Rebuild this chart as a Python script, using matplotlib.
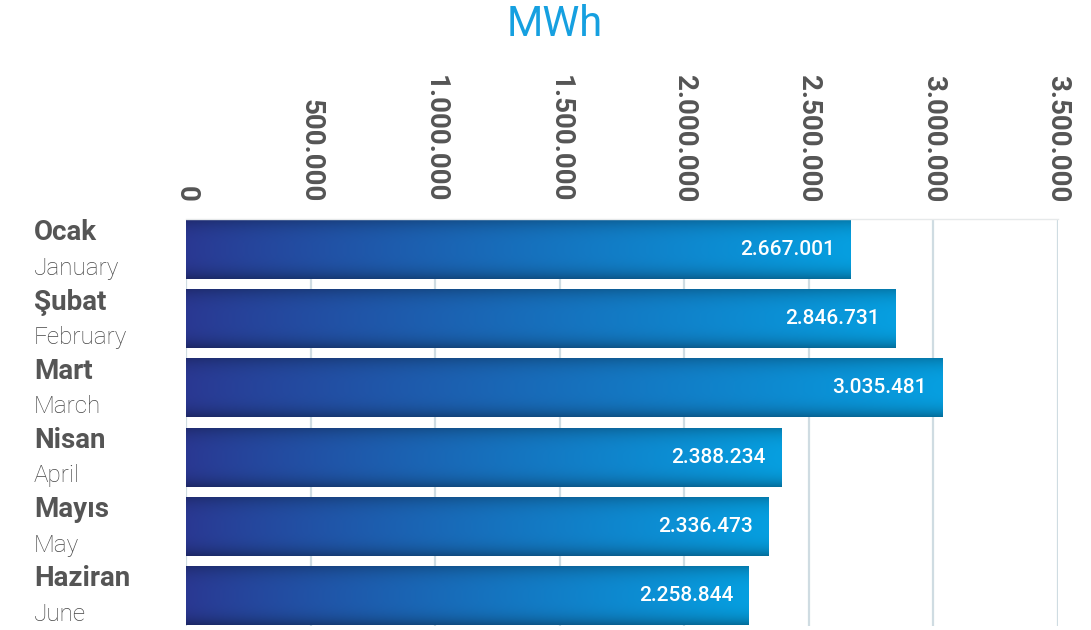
import numpy as np
import matplotlib
matplotlib.use('Agg')
import matplotlib.pyplot as plt
import matplotlib.transforms as mtransforms
from matplotlib.colors import to_rgb

plt.rcParams['font.family'] = ['Roboto', 'DejaVu Sans']

# data
months_tr = ['Ocak', 'Şubat', 'Mart', 'Nisan', 'Mayıs', 'Haziran']
months_en = ['January', 'February', 'March', 'April', 'May', 'June']
values = [2667001, 2846731, 3035481, 2388234, 2336473, 2258844]
xticks = [0, 500000, 1000000, 1500000, 2000000, 2500000, 3000000, 3500000]


def dotted(v):
  return '{:,}'.format(v).replace(',', '.')


def gradient_img(n_rows=60, n_cols=256):
  left = np.array(to_rgb('#2a3892'))
  right = np.array(to_rgb('#069fe0'))
  t = np.linspace(0, 1, n_cols) ** 0.9
  row = left[None, :] * (1 - t[:, None]) + right[None, :] * t[:, None]
  y = np.linspace(-1, 1, n_rows)
  shade = 1 - 0.22 * np.abs(y) ** 3
  shade[y > 0] -= 0.08 * y[y > 0] ** 4
  img = row[None, :, :] * shade[:, None, None]
  return np.clip(img, 0, 1)


fig = plt.figure(figsize=(10.91, 6.30), dpi=100)
ax = fig.add_axes([186 / 1091, 4 / 630, 872 / 1091, 407 / 630])

h = 0.85
img = gradient_img()
for i, v in enumerate(values):
  ax.imshow(img, extent=(0, v, i + h / 2, i - h / 2), aspect='auto',
            interpolation='bilinear', zorder=2)
  ax.text(v - 62000, i, dotted(v), color='white', fontsize=15,
          fontweight='medium', ha='right', va='center', zorder=3)

ax.set_xlim(0, 3500000)
ax.set_ylim(len(values) - 1 + 0.44, -0.44)

ax.set_xticks(xticks)
ax.set_xticklabels(['0'] + [dotted(x) for x in xticks[1:]])
ax.xaxis.tick_top()
ax.tick_params(axis='x', length=0, pad=12, labelsize=20, labelcolor='#555555',
               labelrotation=270)
for lbl in ax.get_xticklabels():
  lbl.set_fontweight('bold')
ax.set_yticks([])

ax.grid(axis='x', color='#cfdce2', linewidth=1.6, zorder=1)
ax.set_axisbelow(True)
for s in ['right', 'bottom', 'left']:
  ax.spines[s].set_visible(False)
ax.spines['top'].set_color('#e6e9ea')
ax.spines['top'].set_linewidth(1.0)

trans = mtransforms.blended_transform_factory(fig.transFigure, ax.transData)
for i, (tr, en) in enumerate(zip(months_tr, months_en)):
  ax.text(34 / 1091, i - 0.24, tr, transform=trans, fontsize=20,
          fontweight='bold', color='#555555', ha='left', va='center')
  ax.text(34 / 1091, i + 0.27, en, transform=trans, fontsize=17.5,
          fontweight='light', color='#454545', ha='left', va='center')

fig.text(555 / 1091, 1 - 24 / 630, 'MWh', fontsize=30, color='#16a0e0',
         ha='center', va='center')

fig.savefig('out.png', dpi=100)
